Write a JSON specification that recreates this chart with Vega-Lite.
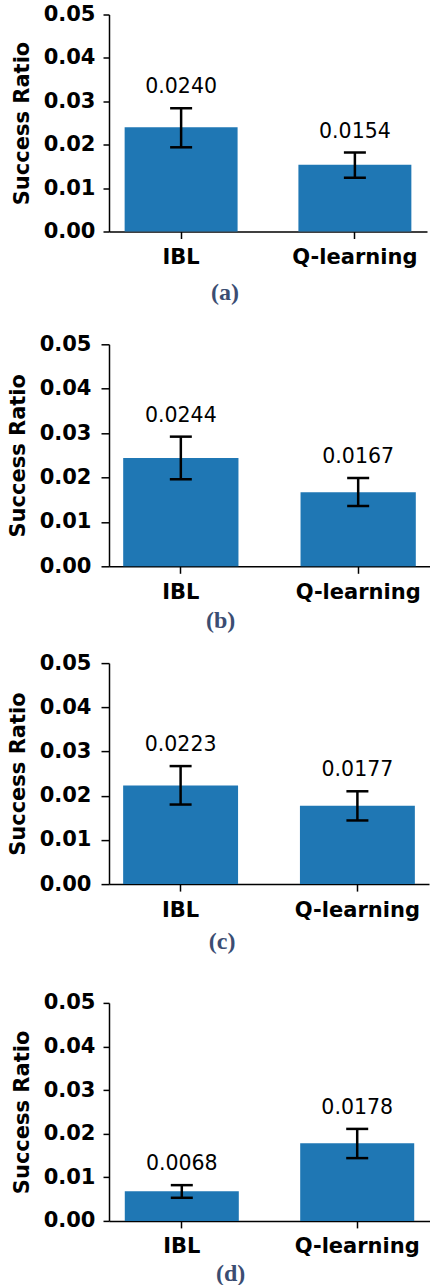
{
  "$schema": "https://vega.github.io/schema/vega-lite/v6.json",
  "background": "white",
  "padding": {"left": 7, "top": 3.5, "right": 0, "bottom": 0},
  "config": {
    "view": {"stroke": null},
    "axis": {"domainColor": "black", "tickColor": "black", "domainWidth": 1.5, "tickWidth": 1.5, "labelColor": "black", "titleColor": "black", "labelFont": "DejaVu Sans", "labelFontWeight": "bold", "labelFontSize": 21, "titleFont": "DejaVu Sans", "titleFontWeight": "bold", "titleFontSize": 21, "grid": false},
    "title": {"font": "Liberation Serif", "fontWeight": "bold", "fontSize": 24, "color": "#3b4d72", "orient": "bottom", "anchor": "middle", "frame": "bounds"}
  },
  "columns": 1,
  "align": "none",
  "spacing": 27.8,
  "concat": [
    {
      "width": 318, "height": 217,
      "title": {"text": "(a)", "offset": 13.7, "dx": 6},
      "data": {"values": [
        {"method": "IBL", "value": 0.0240, "lo": 0.0194, "hi": 0.0284},
        {"method": "Q-learning", "value": 0.0154, "lo": 0.0124, "hi": 0.0182}
      ]},
      "encoding": {
        "x": {"field": "method", "type": "nominal", "sort": null, "title": null,
          "scale": {"paddingInner": 0.35, "paddingOuter": 0.09},
          "axis": {"labelAngle": 0, "tickSize": 7, "labelPadding": 8, "bandPosition": 0.5}}
      },
      "layer": [
        {"mark": {"type": "bar", "color": "#1f77b4", "opacity": 1},
          "encoding": {"y": {"field": "value", "type": "quantitative", "title": "Success Ratio",
            "scale": {"domain": [0, 0.05], "nice": false},
            "axis": {"values": [0, 0.01, 0.02, 0.03, 0.04, 0.05], "format": ".2f", "tickSize": 6, "labelPadding": 8, "titlePadding": 11}}}},
        {"mark": {"type": "rule", "color": "black", "strokeWidth": 2.5},
          "encoding": {"y": {"field": "lo", "type": "quantitative", "title": "Success Ratio"}, "y2": {"field": "hi"}}},
        {"mark": {"type": "tick", "color": "black", "thickness": 2.5, "size": 22, "opacity": 1},
          "encoding": {"y": {"field": "lo", "type": "quantitative", "title": "Success Ratio"}}},
        {"mark": {"type": "tick", "color": "black", "thickness": 2.5, "size": 22, "opacity": 1},
          "encoding": {"y": {"field": "hi", "type": "quantitative", "title": "Success Ratio"}}},
        {"mark": {"type": "text", "font": "DejaVu Sans", "fontSize": 20.5, "color": "black", "baseline": "alphabetic", "dy": -15},
          "encoding": {"y": {"field": "hi", "type": "quantitative", "title": "Success Ratio"}, "text": {"field": "value", "type": "quantitative", "format": ".4f"}}}
      ]
    },
    {
      "columns": 1,
      "align": "none",
      "spacing": 18.8,
      "concat": [
        {
          "width": 321, "height": 222,
          "title": {"text": "(b)", "offset": 6.7, "dx": 2},
          "data": {"values": [
            {"method": "IBL", "value": 0.0244, "lo": 0.0196, "hi": 0.0292},
            {"method": "Q-learning", "value": 0.0167, "lo": 0.0136, "hi": 0.0199}
          ]},
          "encoding": {
            "x": {"field": "method", "type": "nominal", "sort": null, "title": null,
              "scale": {"paddingInner": 0.35, "paddingOuter": 0.08},
              "axis": {"labelAngle": 0, "tickSize": 7, "labelPadding": 8, "bandPosition": 0.5}}
          },
          "layer": [
            {"mark": {"type": "bar", "color": "#1f77b4", "opacity": 1},
              "encoding": {"y": {"field": "value", "type": "quantitative", "title": "Success Ratio",
                "scale": {"domain": [0, 0.05], "nice": false},
                "axis": {"values": [0, 0.01, 0.02, 0.03, 0.04, 0.05], "format": ".2f", "tickSize": 8, "labelPadding": 10, "titlePadding": 11}}}},
            {"mark": {"type": "rule", "color": "black", "strokeWidth": 2.5},
              "encoding": {"y": {"field": "lo", "type": "quantitative", "title": "Success Ratio"}, "y2": {"field": "hi"}}},
            {"mark": {"type": "tick", "color": "black", "thickness": 2.5, "size": 22, "opacity": 1},
              "encoding": {"y": {"field": "lo", "type": "quantitative", "title": "Success Ratio"}}},
            {"mark": {"type": "tick", "color": "black", "thickness": 2.5, "size": 22, "opacity": 1},
              "encoding": {"y": {"field": "hi", "type": "quantitative", "title": "Success Ratio"}}},
            {"mark": {"type": "text", "font": "DejaVu Sans", "fontSize": 20.5, "color": "black", "baseline": "alphabetic", "dy": -15},
              "encoding": {"y": {"field": "hi", "type": "quantitative", "title": "Success Ratio"}, "text": {"field": "value", "type": "quantitative", "format": ".4f"}}}
          ]
        },
        {
          "columns": 1,
          "align": "none",
          "spacing": 37.8,
          "concat": [
            {
              "width": 320, "height": 221,
              "title": {"text": "(c)", "offset": 9.7, "dx": 4},
              "data": {"values": [
                {"method": "IBL", "value": 0.0223, "lo": 0.0180, "hi": 0.0267},
                {"method": "Q-learning", "value": 0.0177, "lo": 0.0144, "hi": 0.0210}
              ]},
              "encoding": {
                "x": {"field": "method", "type": "nominal", "sort": null, "title": null,
                  "scale": {"paddingInner": 0.35, "paddingOuter": 0.08},
                  "axis": {"labelAngle": 0, "tickSize": 7, "labelPadding": 8, "bandPosition": 0.5}}
              },
              "layer": [
                {"mark": {"type": "bar", "color": "#1f77b4", "opacity": 1},
                  "encoding": {"y": {"field": "value", "type": "quantitative", "title": "Success Ratio",
                    "scale": {"domain": [0, 0.05], "nice": false},
                    "axis": {"values": [0, 0.01, 0.02, 0.03, 0.04, 0.05], "format": ".2f", "tickSize": 8, "labelPadding": 10, "titlePadding": 11}}}},
                {"mark": {"type": "rule", "color": "black", "strokeWidth": 2.5},
                  "encoding": {"y": {"field": "lo", "type": "quantitative", "title": "Success Ratio"}, "y2": {"field": "hi"}}},
                {"mark": {"type": "tick", "color": "black", "thickness": 2.5, "size": 22, "opacity": 1},
                  "encoding": {"y": {"field": "lo", "type": "quantitative", "title": "Success Ratio"}}},
                {"mark": {"type": "tick", "color": "black", "thickness": 2.5, "size": 22, "opacity": 1},
                  "encoding": {"y": {"field": "hi", "type": "quantitative", "title": "Success Ratio"}}},
                {"mark": {"type": "text", "font": "DejaVu Sans", "fontSize": 20.5, "color": "black", "baseline": "alphabetic", "dy": -15},
                  "encoding": {"y": {"field": "hi", "type": "quantitative", "title": "Success Ratio"}, "text": {"field": "value", "type": "quantitative", "format": ".4f"}}}
              ]
            },
            {
              "width": 321, "height": 218,
              "title": {"text": "(d)", "offset": 5.4, "dx": 10},
              "data": {"values": [
                {"method": "IBL", "value": 0.0068, "lo": 0.0053, "hi": 0.0082},
                {"method": "Q-learning", "value": 0.0178, "lo": 0.0144, "hi": 0.0211}
              ]},
              "encoding": {
                "x": {"field": "method", "type": "nominal", "sort": null, "title": null,
                  "scale": {"paddingInner": 0.35, "paddingOuter": 0.09},
                  "axis": {"labelAngle": 0, "tickSize": 7, "labelPadding": 8, "bandPosition": 0.5}}
              },
              "layer": [
                {"mark": {"type": "bar", "color": "#1f77b4", "opacity": 1},
                  "encoding": {"y": {"field": "value", "type": "quantitative", "title": "Success Ratio",
                    "scale": {"domain": [0, 0.05], "nice": false},
                    "axis": {"values": [0, 0.01, 0.02, 0.03, 0.04, 0.05], "format": ".2f", "tickSize": 6, "labelPadding": 8, "titlePadding": 11}}}},
                {"mark": {"type": "rule", "color": "black", "strokeWidth": 2.5},
                  "encoding": {"y": {"field": "lo", "type": "quantitative", "title": "Success Ratio"}, "y2": {"field": "hi"}}},
                {"mark": {"type": "tick", "color": "black", "thickness": 2.5, "size": 22, "opacity": 1},
                  "encoding": {"y": {"field": "lo", "type": "quantitative", "title": "Success Ratio"}}},
                {"mark": {"type": "tick", "color": "black", "thickness": 2.5, "size": 22, "opacity": 1},
                  "encoding": {"y": {"field": "hi", "type": "quantitative", "title": "Success Ratio"}}},
                {"mark": {"type": "text", "font": "DejaVu Sans", "fontSize": 20.5, "color": "black", "baseline": "alphabetic", "dy": -15},
                  "encoding": {"y": {"field": "hi", "type": "quantitative", "title": "Success Ratio"}, "text": {"field": "value", "type": "quantitative", "format": ".4f"}}}
              ]
            }
          ]
        }
      ]
    }
  ]
}
